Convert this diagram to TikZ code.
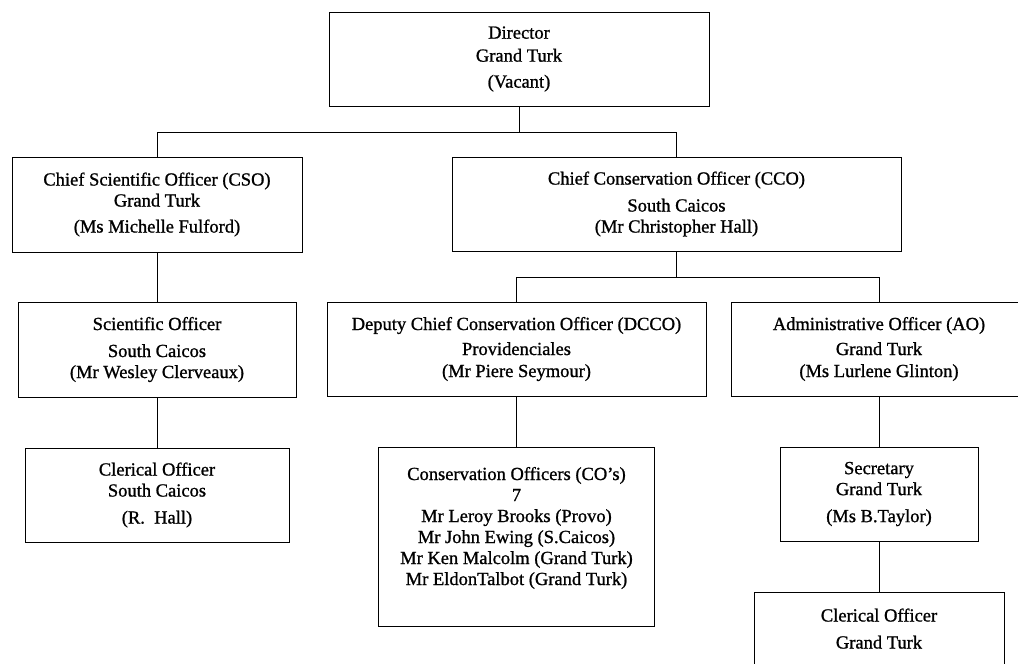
\documentclass[tikz,border=0pt]{standalone}
\usepackage{fontspec}
\setmainfont[FakeBold=1]{Liberation Serif}

\begin{document}
\begin{tikzpicture}[x=1pt,y=-1pt,
  post/.style={draw,line width=0.8pt,inner sep=0pt,outer sep=0pt,align=center,
    font=\fontsize{18.5}{21}\selectfont},
  link/.style={line width=0.8pt}]
  \clip(0,0) rectangle (1018,664);
  % top
  \node[post,minimum width=380pt,minimum height=94pt](dir) at (519,59)
    {Director\\[2pt]Grand Turk\\[5pt](Vacant)};
  % second row
  \node[post,minimum width=290pt,minimum height=95pt](cso) at (157,204.5)
    {Chief Scientific Officer (CSO)\\Grand Turk\\[5pt](Ms Michelle Fulford)};
  \node[post,minimum width=449pt,minimum height=94pt](cco) at (676.5,204)
    {Chief Conservation Officer (CCO)\\[6pt]South Caicos\\(Mr Christopher Hall)};
  % third row
  \node[post,minimum width=278pt,minimum height=95pt](sci) at (157,349.5)
    {Scientific Officer\\[6pt]South Caicos\\(Mr Wesley Clerveaux)};
  \node[post,minimum width=379pt,minimum height=94pt](dcco) at (516.5,349)
    {Deputy Chief Conservation Officer (DCCO)\\[4pt]Providenciales\\[1pt](Mr Piere Seymour)};
  \node[post,minimum width=296pt,minimum height=94pt](ao) at (879,349)
    {Administrative Officer (AO)\\[4pt]Grand Turk\\[1pt](Ms Lurlene Glinton)};
  % fourth row
  \node[post,minimum width=264pt,minimum height=94pt](clsc) at (157,495)
    {Clerical Officer\\South Caicos\\[6pt](R.\ \ Hall)};
  \node[post,minimum width=276pt,minimum height=179pt](cos) at (516.5,536.5)
    {Conservation Officers (CO’s)\\7\\Mr Leroy Brooks (Provo)\\Mr John Ewing (S.Caicos)\\
     Mr Ken Malcolm (Grand Turk)\\Mr EldonTalbot (Grand Turk)\\ ~};
  \node[post,minimum width=198pt,minimum height=94pt](sec) at (879,494)
    {Secretary\\Grand Turk\\[6pt](Ms B.Taylor)};
  % bottom
  \node[post,minimum width=250pt,minimum height=94pt](clgt) at (879,639)
    {Clerical Officer\\[6pt]Grand Turk\\ ~};
  % links
  \draw[link](dir.south)--++(0,26)-|(cso.north);
  \draw[link](dir.south)--++(0,26)-|(cco.north);
  \draw[link](cco.south)--++(0,26)-|(dcco.north);
  \draw[link](cco.south)--++(0,26)-|(ao.north);
  \draw[link](cso.south)--(cso.south|-sci.north);
  \draw[link](sci.south)--(sci.south|-clsc.north);
  \draw[link](dcco.south)--(dcco.south|-cos.north);
  \draw[link](ao.south)--(sec.north);
  \draw[link](sec.south)--(clgt.north);
\end{tikzpicture}
\end{document}
